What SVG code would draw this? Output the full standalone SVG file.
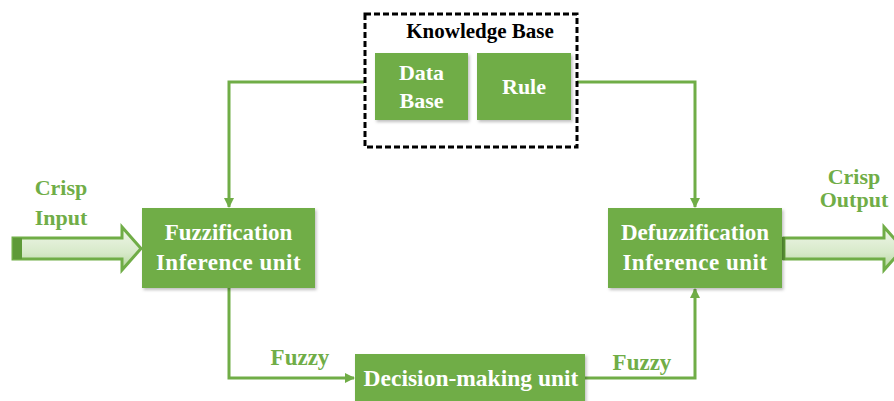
<svg xmlns="http://www.w3.org/2000/svg" width="894" height="401" viewBox="0 0 894 401">
  <defs>
    <marker id="arrow" markerWidth="10" markerHeight="10" refX="9" refY="5" orient="auto" markerUnits="userSpaceOnUse" viewBox="0 0 10 10">
      <path d="M0,0 L10,5 L0,10 z" fill="#70ad47"/>
    </marker>
    <linearGradient id="bigArrowFill" x1="0" y1="0" x2="0" y2="1">
      <stop offset="0" stop-color="#f0f7ea"/>
      <stop offset="0.6" stop-color="#d7e9c9"/>
      <stop offset="1" stop-color="#b4d59c"/>
    </linearGradient>
    <filter id="shadow" x="-10%" y="-10%" width="125%" height="130%">
      <feDropShadow dx="1.5" dy="2" stdDeviation="1.5" flood-color="#000" flood-opacity="0.25"/>
    </filter>
  </defs>
  <style>
    .box { fill: #70ad47; filter: url(#shadow); }
    .boxText { font-family: "Liberation Serif", "DejaVu Serif", serif; font-weight: bold; fill: #ffffff; text-anchor: middle; }
    .label { font-family: "Liberation Serif", "DejaVu Serif", serif; font-weight: bold; fill: #70ad47; text-anchor: middle; }
    .wire { fill: none; stroke: #70ad47; stroke-width: 3; }
    .bigArrow { fill: url(#bigArrowFill); stroke: #70ad47; stroke-width: 3; stroke-linejoin: miter; }
  </style>

  <rect width="894" height="401" fill="#ffffff"/>

  <!-- connectors -->
  <g id="connectors">
    <path class="wire" d="M364,82 H229 V207" marker-end="url(#arrow)"/>
    <path class="wire" d="M577,82 H695 V207" marker-end="url(#arrow)"/>
    <path class="wire" d="M229,288 V378 H354" marker-end="url(#arrow)"/>
    <path class="wire" d="M585,378 H695 V289" marker-end="url(#arrow)"/>
  </g>

  <!-- crisp input -->
  <g id="crisp-input">
    <path class="bigArrow" d="M13,238 H122 V227 L141,248.5 L122,270 V259 H13 z"/>
    <rect x="13" y="238" width="9" height="21" fill="#5e9a38"/>
    <text class="label" font-size="22" x="61" y="195">Crisp</text>
    <text class="label" font-size="22" x="61" y="225">Input</text>
  </g>

  <!-- crisp output -->
  <g id="crisp-output">
    <path class="bigArrow" d="M784,238 H884 V227 L903,248.5 L884,270 V259 H784 z"/>
    <rect x="775" y="237" width="10" height="23" fill="#5e9a38"/>
    <text class="label" font-size="22" x="854" y="184">Crisp</text>
    <text class="label" font-size="22" x="854" y="207">Output</text>
  </g>

  <!-- knowledge base -->
  <g id="knowledge-base">
    <rect x="365" y="14" width="212" height="133" fill="none" stroke="#000" stroke-width="3" stroke-dasharray="6,3"/>
    <text font-family="Liberation Serif, DejaVu Serif, serif" font-weight="bold" font-size="21" x="480" y="38" text-anchor="middle" fill="#000">Knowledge Base</text>
  </g>

  <g id="data-base">
    <rect class="box" x="375" y="53" width="93" height="67"/>
    <text class="boxText" font-size="22" x="421.5" y="80">Data</text>
    <text class="boxText" font-size="22" x="421.5" y="108">Base</text>
  </g>

  <g id="rule">
    <rect class="box" x="477" y="53" width="94" height="67"/>
    <text class="boxText" font-size="22" x="524" y="94">Rule</text>
  </g>

  <g id="fuzzification">
    <rect class="box" x="142" y="208" width="173" height="80"/>
    <text class="boxText" font-size="23" x="228.5" y="240">Fuzzification</text>
    <text class="boxText" font-size="23" x="228.5" y="270" letter-spacing="0.5">Inference unit</text>
  </g>

  <g id="defuzzification">
    <rect class="box" x="608" y="208" width="174" height="80"/>
    <text class="boxText" font-size="23" x="695" y="240">Defuzzification</text>
    <text class="boxText" font-size="23" x="695" y="270" letter-spacing="0.5">Inference unit</text>
  </g>

  <g id="decision-making">
    <rect class="box" x="355" y="354" width="230" height="52"/>
    <text class="boxText" font-size="23.5" x="471" y="386">Decision-making unit</text>
  </g>

  <text class="label" font-size="23" x="300" y="365">Fuzzy</text>
  <text class="label" font-size="23" x="642" y="370">Fuzzy</text>
</svg>
